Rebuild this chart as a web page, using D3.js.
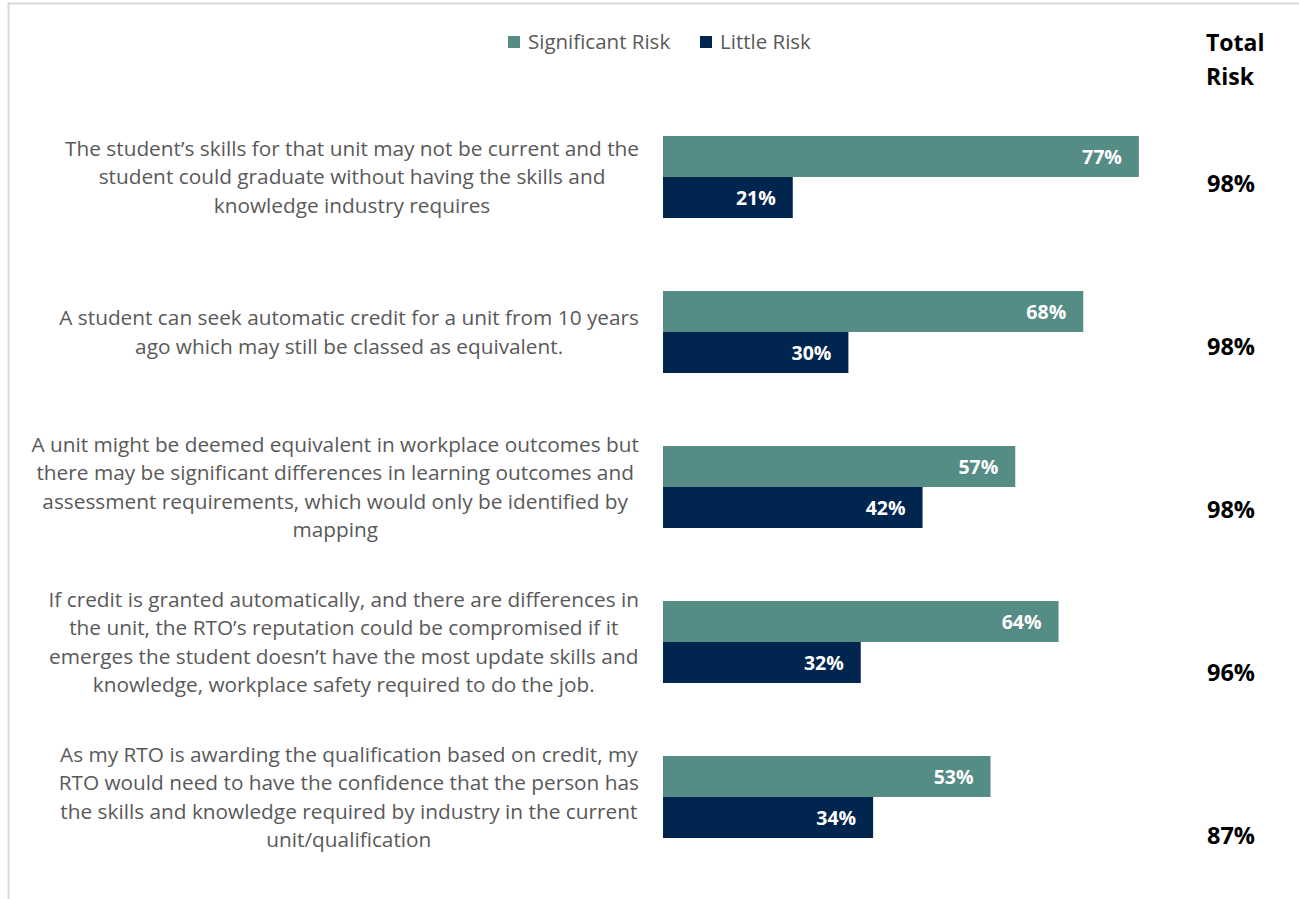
<!DOCTYPE html>
<html>
<head>
<meta charset="utf-8">
<script src="https://cdn.jsdelivr.net/npm/d3@7"></script>
<style>
  html, body { margin: 0; padding: 0; background: #fff; }
  svg { display: block; }
</style>
</head>
<body>
<svg id="chart" width="1299" height="899"></svg>
<script>
// Statements rated by respondents
const categories = [
  ["The student\u2019s skills for that unit may not be current and the",
   "student could graduate without having the skills and",
   "knowledge industry requires"],
  ["A student can seek automatic credit for a unit from 10 years",
   "ago which may still be classed as equivalent."],
  ["A unit might be deemed equivalent in workplace outcomes but",
   "there may be significant differences in learning outcomes and",
   "assessment requirements, which would only be identified by",
   "mapping"],
  ["If credit is granted automatically, and there are differences in",
   "the unit, the RTO\u2019s reputation could be compromised if it",
   "emerges the student doesn\u2019t have the most update skills and",
   "knowledge, workplace safety required to do the job."],
  ["As my RTO is awarding the qualification based on credit, my",
   "RTO would need to have the confidence that the person has",
   "the skills and knowledge required by industry in the current",
   "unit/qualification"]
];
const seriesNames = ["Significant Risk", "Little Risk"];
const significantRisk = [0.77, 0.68, 0.57, 0.64, 0.53];
const littleRisk = [0.21, 0.30, 0.42, 0.32, 0.34];
const totalRisk = [0.98, 0.98, 0.98, 0.96, 0.87];
const totalHeader = ["Total", "Risk"];

const colors = { "Significant Risk": "#558C86", "Little Risk": "#00254F" };
const font = "'Open Sans', 'Liberation Sans', sans-serif";
const pct = d3.format(".0%");

const svg = d3.select("#chart");
const ids = categories.map((_, i) => i);

// frame lines
svg.append("path")
  .attr("d", "M8.5,899V3.5H1299")
  .attr("fill", "none").attr("stroke", "#d9d9d9").attr("stroke-width", 2);

// scales
const x = d3.scaleLinear().domain([0, 1]).range([663, 1281]);
const pi = 82 / 155;
const y = d3.scaleBand().domain(ids).range([99.5, 874.5])
  .paddingInner(1 - pi).paddingOuter((1 - pi) / 2);
const ySub = d3.scaleBand().domain(seriesNames).range([0, y.bandwidth()]);
const yTotal = d3.scalePoint().domain(ids).range([184, 836]);

const rows = ids.map(i => ({
  i,
  values: [
    { key: seriesNames[0], value: significantRisk[i] },
    { key: seriesNames[1], value: littleRisk[i] }
  ]
}));

// bars
const groups = svg.append("g").selectAll("g").data(rows).join("g")
  .attr("transform", d => `translate(0,${y(d.i)})`);

groups.selectAll("rect").data(d => d.values).join("rect")
  .attr("x", x(0))
  .attr("y", d => ySub(d.key))
  .attr("width", d => x(d.value) - x(0))
  .attr("height", ySub.bandwidth())
  .attr("fill", d => colors[d.key]);

groups.selectAll("text.val").data(d => d.values).join("text")
  .attr("class", "val")
  .attr("x", d => x(d.value) - 17)
  .attr("y", d => ySub(d.key) + ySub.bandwidth() / 2)
  .attr("dy", "0.36em")
  .attr("text-anchor", "end")
  .attr("fill", "#fff")
  .attr("font-family", font)
  .attr("font-weight", "bold")
  .attr("font-size", 19.5)
  .text(d => pct(d.value));

// category labels, centred lines, block right-aligned to the bars
const lineH = 28.5;
const labelRight = 639;
const labelSize = 20.8;
const labels = svg.append("g").selectAll("text").data(rows).join("text")
  .attr("font-family", font)
  .attr("font-size", labelSize)
  .attr("fill", "#595959")
  .attr("text-anchor", "middle");

labels.each(function(d) {
  const t = d3.select(this);
  const lines = categories[d.i];
  const cy = y(d.i) + y.bandwidth() / 2;
  const top = cy - (lines.length - 1) * lineH / 2;
  lines.forEach((ln, k) => {
    t.append("tspan").attr("y", top + k * lineH).attr("dy", "0.35em").text(ln);
  });
  let maxW = 0;
  t.selectAll("tspan").each(function() {
    maxW = Math.max(maxW, this.getComputedTextLength());
  });
  t.selectAll("tspan").attr("x", labelRight - maxW / 2);
});

// legend
const legend = svg.append("g");
const legendX = [508, 700];
seriesNames.forEach((name, k) => {
  legend.append("rect")
    .attr("x", legendX[k]).attr("y", 36).attr("width", 12).attr("height", 12)
    .attr("fill", colors[name]);
  legend.append("text")
    .attr("x", legendX[k] + 20).attr("y", 42).attr("dy", "0.35em")
    .attr("font-family", font).attr("font-size", 20.5).attr("fill", "#595959")
    .text(name);
});

// total risk column
svg.append("text")
  .attr("font-family", font).attr("font-weight", "bold").attr("font-size", 23)
  .attr("fill", "#000")
  .selectAll("tspan").data(totalHeader).join("tspan")
  .attr("x", 1206).attr("y", (d, k) => 51 + k * 34)
  .text(d => d);

svg.append("g").selectAll("text").data(ids).join("text")
  .attr("x", 1231)
  .attr("y", i => yTotal(i))
  .attr("dy", "0.36em")
  .attr("text-anchor", "middle")
  .attr("font-family", font).attr("font-weight", "bold").attr("font-size", 23.5)
  .attr("fill", "#000")
  .text(i => pct(totalRisk[i]));
</script>
</body>
</html>
